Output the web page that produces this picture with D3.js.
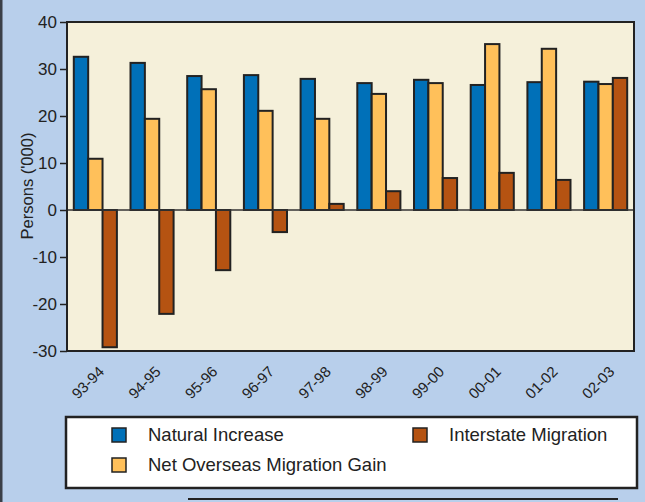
<!DOCTYPE html>
<html>
<head>
<meta charset="utf-8">
<script src="https://cdn.jsdelivr.net/npm/d3@7"></script>
<style>
  body { margin: 0; background: #b8cfeb; }
  svg { display: block; font-family: "Liberation Sans", Arial, sans-serif; }
</style>
</head>
<body>
<div id="chart"></div>
<script>
var years = ["93-94", "94-95", "95-96", "96-97", "97-98", "98-99", "99-00", "00-01", "01-02", "02-03"];
var naturalIncrease = [32.6, 31.3, 28.5, 28.7, 27.9, 27.0, 27.7, 26.6, 27.2, 27.3];
var overseasGain = [10.9, 19.4, 25.7, 21.1, 19.4, 24.7, 27.0, 35.3, 34.3, 26.8];
var interstate = [-29.2, -22.1, -12.8, -4.7, 1.3, 4.0, 6.8, 7.9, 6.4, 28.1];
var yTicks = [40, 30, 20, 10, 0, -10, -20, -30];

var seriesNames = ["Natural Increase", "Net Overseas Migration Gain", "Interstate Migration"];
var seriesColors = ["#0070b8", "#ffc05a", "#b55312"];
var seriesValues = [naturalIncrease, overseasGain, interstate];

var fullWidth = 645, fullHeight = 502;
var margin = { left: 67, top: 22, right: 11, bottom: 151 };
var width = fullWidth - margin.left - margin.right;
var height = fullHeight - margin.top - margin.bottom;

var svg = d3.select("#chart").append("svg")
    .attr("width", fullWidth).attr("height", fullHeight);

svg.append("rect").attr("width", fullWidth).attr("height", fullHeight).attr("fill", "#b8cfeb");
// dark strip on the left edge
svg.append("rect").attr("x", 0).attr("y", 0).attr("width", 2.5).attr("height", fullHeight).attr("fill", "#3a3f48");

var g = svg.append("g").attr("transform", "translate(" + margin.left + "," + margin.top + ")");

var y = d3.scaleLinear().domain([-30, 40]).range([height, 0]);
var x0 = d3.scaleBand().domain(years).range([0, width]).paddingInner(0.24).paddingOuter(0.12);
var x1 = d3.scaleBand().domain(d3.range(3)).range([0, x0.bandwidth()]);

g.append("rect").attr("width", width).attr("height", height).attr("fill", "#f5f0da");

var groups = g.selectAll(".grp").data(years).enter().append("g")
    .attr("transform", d => "translate(" + x0(d) + ",0)");

groups.selectAll("rect").data((d, i) => seriesValues.map((s, k) => ({ k: k, v: s[i] })))
    .enter().append("rect")
    .attr("x", d => x1(d.k))
    .attr("width", x1.bandwidth())
    .attr("y", d => y(Math.max(0, d.v)))
    .attr("height", d => Math.abs(y(d.v) - y(0)))
    .attr("fill", d => seriesColors[d.k])
    .attr("stroke", "#222")
    .attr("stroke-width", 2);

// zero line
g.append("line").attr("x1", 0).attr("x2", width).attr("y1", y(0)).attr("y2", y(0))
    .attr("stroke", "#333").attr("stroke-width", 1.5);

// frame
g.append("rect").attr("width", width).attr("height", height)
    .attr("fill", "none").attr("stroke", "#222").attr("stroke-width", 2);

var yAxis = g.append("g").call(d3.axisLeft(y).tickValues(yTicks).tickSize(7).tickPadding(3)
    .tickFormat(d => String(d)));
yAxis.select(".domain").remove();
yAxis.selectAll("line").attr("stroke", "#222").attr("stroke-width", 1.5);
yAxis.selectAll("text").attr("font-size", 17).attr("fill", "#222");

var xAxis = g.append("g").attr("transform", "translate(0," + height + ")")
    .call(d3.axisBottom(x0).tickSize(0));
xAxis.select(".domain").remove();
xAxis.selectAll("text")
    .attr("font-size", 15).attr("fill", "#222")
    .attr("text-anchor", "end")
    .attr("y", 0)
    .attr("dy", "0.35em")
    .attr("transform", "translate(6,18) rotate(-45)");

svg.append("text")
    .attr("transform", "translate(33,186) rotate(-90)")
    .attr("text-anchor", "middle")
    .attr("font-size", 16.5).attr("fill", "#222")
    .text("Persons ('000)");

// legend
var lg = svg.append("g").attr("transform", "translate(66,417)");
lg.append("rect").attr("width", 571).attr("height", 71)
    .attr("fill", "#fff").attr("stroke", "#222").attr("stroke-width", 2.5);
var legendPos = [[46, 11], [46, 41], [347, 11]];
seriesNames.forEach(function (name, k) {
    var item = lg.append("g").attr("transform", "translate(" + legendPos[k][0] + "," + legendPos[k][1] + ")");
    item.append("rect").attr("width", 14).attr("height", 14)
        .attr("fill", seriesColors[k]).attr("stroke", "#222").attr("stroke-width", 1.5);
    item.append("text").attr("x", 36).attr("y", 13).attr("font-size", 18.5).attr("fill", "#222").text(name);
});

svg.append("line").attr("x1", 188).attr("x2", 618).attr("y1", 499).attr("y2", 499)
    .attr("stroke", "#222").attr("stroke-width", 2);
</script>
</body>
</html>
